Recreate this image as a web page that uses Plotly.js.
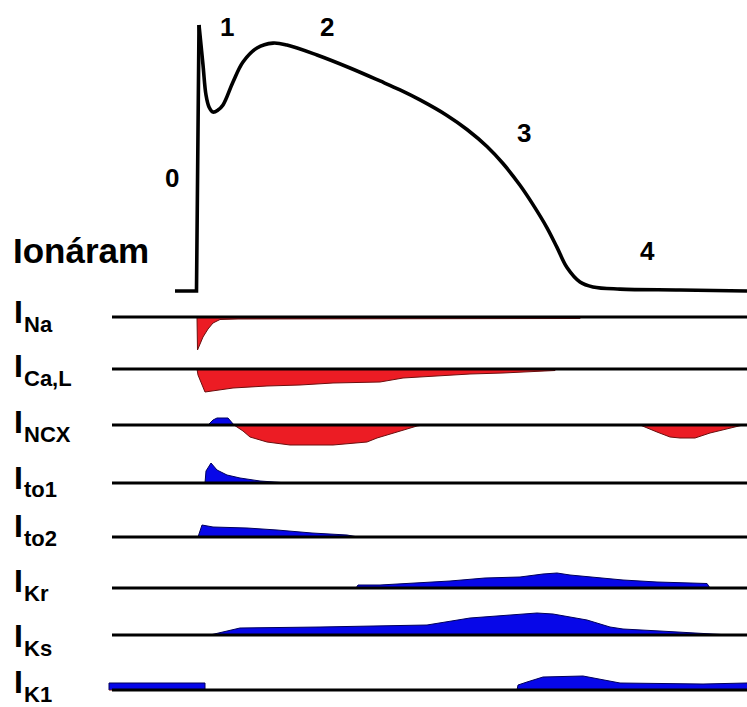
<!DOCTYPE html>
<html><head><meta charset="utf-8">
<script src="https://cdn.plot.ly/plotly-3.0.1.min.js"></script>
<style>html,body{margin:0;padding:0;background:#fff}</style>
</head><body><div id="chart" style="width:747px;height:707px"></div>
<script>
// ---- Action potential (time in ms, membrane potential in mV) ----
const apTime    = [-23, -1.5, 1, 5, 8, 11, 15, 20, 25, 35, 45, 59, 75, 89, 119, 152, 182, 202, 222, 249, 269, 289, 305, 322, 335, 349, 359, 369, 382, 395, 422, 482, 549];
const apVoltage = [-85, -85, 40, 21.2, 7.1, 1.5, -0.9, 0.05, 2.4, 13.2, 22.6, 29.2, 31.5, 30.6, 25.9, 19.8, 13.7, 9.5, 4.8, -2.5, -9.1, -17.1, -25.1, -35.3, -44.4, -55.3, -64.5, -74, -80.8, -83.1, -84.1, -84.5, -85];
const phaseLabels = ['0', '1', '2', '3', '4'];
const sectionTitle = 'Ionáram';

// ---- Ionic currents (arbitrary units, outward positive) ----
const iNaTime   = [-1, -0.5, 5, 10, 15, 22, 40, 100, 200, 300, 382, 383];
const iNaValue  = [0, -33, -20, -12, -6, -2.5, -2, -2, -2, -1.5, -1.5, 0];
const iCaLTime  = [-1, 0, 7, 35, 69, 102, 135, 182, 205, 239, 272, 305, 327, 357, 358];
const iCaLValue = [0, -6, -23, -19, -17, -16, -14, -13, -9, -7, -5, -4, -3, -1.5, 0];
const iNCXTime  = [10, 15, 19, 30, 36, 45, 52, 69, 92, 135, 169, 179, 195, 205, 219, 225, 442, 459, 472, 482, 497, 512, 525, 539, 545];
const iNCXValue = [0, 5, 7, 7, 0, -6, -12, -17, -20, -20, -17, -13, -8, -5, -1, 0, 0, -7, -12, -13, -13, -8, -5, -2, 0];
const iTo1Time  = [7, 8, 13, 19, 29, 42, 62, 85, 90];
const iTo1Value = [0, 12, 20, 13, 8, 5, 2, 0.5, 0];
const iTo2Time  = [0, 4, 15, 49, 79, 114, 149, 160];
const iTo2Value = [0, 12, 10, 9, 7, 4, 2, 0];
const iKrTime   = [158, 160, 182, 217, 252, 287, 322, 345, 359, 372, 405, 425, 459, 509, 512];
const iKrValue  = [0, 3, 3, 5, 7, 10, 11, 14, 15, 13, 10, 8, 6, 4.5, 0];
const iKsTime   = [12, 35, 42, 122, 182, 229, 272, 312, 339, 355, 389, 412, 425, 462, 495, 522, 532];
const iKsValue  = [0, 5, 7, 8, 9, 10, 17, 20, 22, 21, 15, 8, 6, 4, 2, 1, 0];
const iK1Time   = [-89, -89, 7, 7, 319, 320, 329, 345, 385, 405, 422, 505, 549];
const iK1Value  = [0, 7, 7, 0, 0, 5, 8, 13, 14, 10, 7, 6, 7];

const currents = [
  {sub: 'Na',   t: iNaTime,  v: iNaValue},
  {sub: 'Ca,L', t: iCaLTime, v: iCaLValue},
  {sub: 'NCX',  t: iNCXTime, v: iNCXValue},
  {sub: 'to1',  t: iTo1Time, v: iTo1Value},
  {sub: 'to2',  t: iTo2Time, v: iTo2Value},
  {sub: 'Kr',   t: iKrTime,  v: iKrValue},
  {sub: 'Ks',   t: iKsTime,  v: iKsValue},
  {sub: 'K1',   t: iK1Time,  v: iK1Value}
];

// ---- layout helpers (pixel geometry of the figure) ----
const W = 747, H = 707;
const baselinePx = [317, 369, 425, 483, 537, 588, 635, 690];
const labelCenterPx = [312, 366, 422, 478, 526, 581, 636, 682];
const baselineStart = -86, tEnd = 549;
const px = x => x / W, py = y => 1 - y / H;
const RED = '#ec1c24', RED_EDGE = '#6a0e0e', BLUE = '#0707e8', BLUE_EDGE = '#00005a';
const FONT = 'Liberation Sans, Arial, sans-serif';

const traces = [];
// AP: upstroke (straight) + rest (smooth)
traces.push({x: apTime.slice(0, 3), y: apVoltage.slice(0, 3), mode: 'lines', yaxis: 'y',
  line: {color: '#000', width: 3.6}, hoverinfo: 'skip'});
traces.push({x: apTime.slice(2), y: apVoltage.slice(2), mode: 'lines', yaxis: 'y',
  line: {color: '#000', width: 3.6, shape: 'spline', smoothing: 1}, hoverinfo: 'skip'});

const layout = {
  width: W, height: H, margin: {l: 0, r: 0, t: 0, b: 0, pad: 0},
  paper_bgcolor: '#fff', plot_bgcolor: '#fff', showlegend: false,
  xaxis: {range: [-198, 549], visible: false, fixedrange: true},
  yaxis: {range: [40 - (H - 25) / 2.128, 40 + 25 / 2.128], visible: false, fixedrange: true},
  annotations: []
};

currents.forEach((c, i) => {
  const ax = 'y' + (i + 2);
  const base = baselinePx[i];
  layout['yaxis' + (i + 2)] = {range: [base - H, base], overlaying: 'y', visible: false, fixedrange: true};
  const pos = c.v.map(v => Math.max(v, 0));
  const neg = c.v.map(v => Math.min(v, 0));
  traces.push({x: c.t, y: pos, yaxis: ax, mode: 'lines', fill: 'tozeroy', fillcolor: BLUE,
    line: {color: BLUE_EDGE, width: 1}, hoverinfo: 'skip'});
  traces.push({x: c.t, y: neg, yaxis: ax, mode: 'lines', fill: 'tozeroy', fillcolor: RED,
    line: {color: RED_EDGE, width: 1}, hoverinfo: 'skip'});
  traces.push({x: [baselineStart, tEnd], y: [0, 0], yaxis: ax, mode: 'lines',
    line: {color: '#000', width: 3}, hoverinfo: 'skip'});
  layout.annotations.push({xref: 'paper', yref: 'paper', x: px(12), y: py(labelCenterPx[i]),
    xanchor: 'left', yanchor: 'middle', showarrow: false, text: '<b>I</b>',
    font: {family: FONT, size: 32, color: '#000'}});
  layout.annotations.push({xref: 'paper', yref: 'paper', x: px(22), y: py(labelCenterPx[i] + 12),
    xanchor: 'left', yanchor: 'middle', showarrow: false, text: '<b>' + c.sub + '</b>',
    font: {family: FONT, size: 22, color: '#000'}});
});

const phasePos = [[172, 178], [227, 27], [327, 27], [524, 133], [647, 251]];
phaseLabels.forEach((p, i) => {
  layout.annotations.push({xref: 'paper', yref: 'paper', x: px(phasePos[i][0]), y: py(phasePos[i][1]),
    xanchor: 'center', yanchor: 'middle', showarrow: false, text: '<b>' + p + '</b>',
    font: {family: FONT, size: 26, color: '#000'}});
});
layout.annotations.push({xref: 'paper', yref: 'paper', x: px(11), y: py(251),
  xanchor: 'left', yanchor: 'middle', showarrow: false, text: '<b>' + sectionTitle + '</b>',
  font: {family: FONT, size: 35, color: '#000'}});

Plotly.newPlot('chart', traces, layout, {staticPlot: true, displayModeBar: false});
</script></body></html>
